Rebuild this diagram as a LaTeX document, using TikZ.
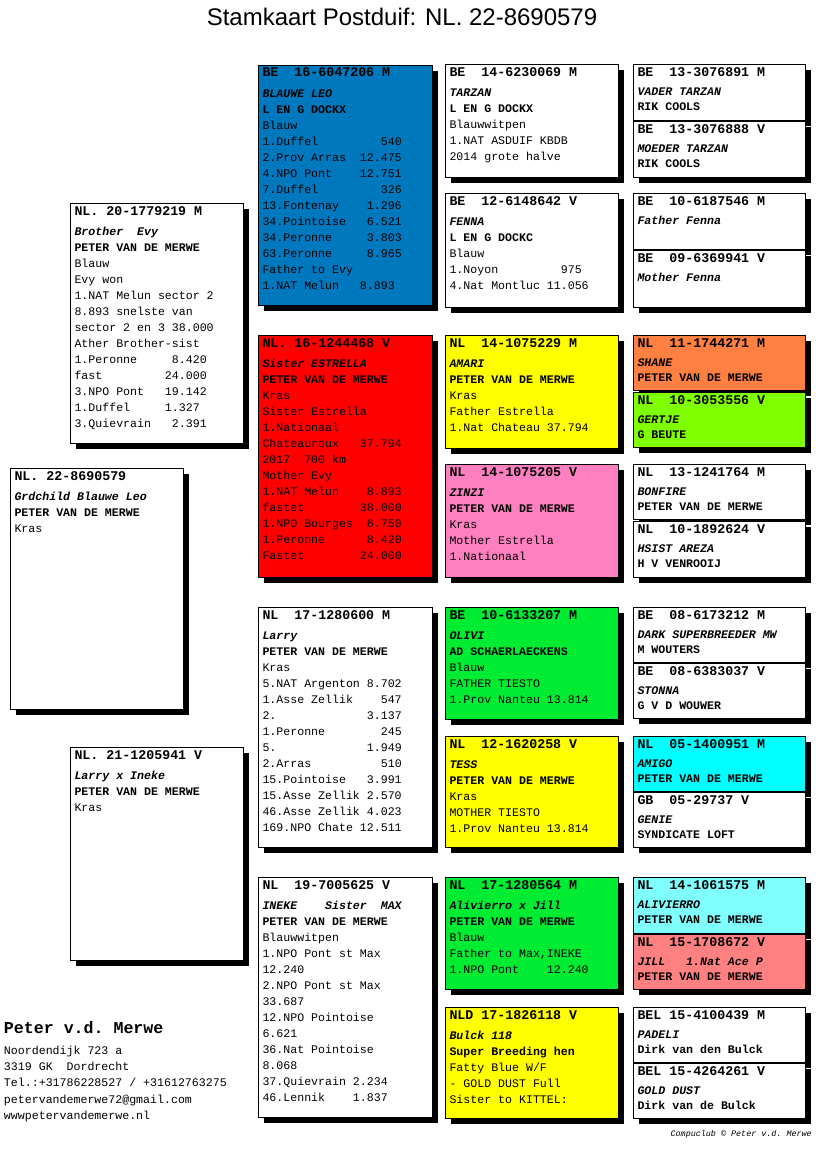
\documentclass[tikz,border=0pt]{standalone}
\usepackage{fontspec}
\setmainfont{Liberation Serif}
\setmonofont{Liberation Mono}
\newfontfamily\arialf{Liberation Sans}
\usetikzlibrary{calc}
\pgfdeclarelayer{bg}
\pgfsetlayers{bg,main}

\definecolor{cblue}{RGB}{0,120,190}
\definecolor{cred}{RGB}{255,0,0}
\definecolor{cyel}{RGB}{255,255,0}
\definecolor{cpink}{RGB}{255,128,192}
\definecolor{corange}{RGB}{255,128,64}
\definecolor{clime}{RGB}{128,255,0}
\definecolor{cgreen}{RGB}{0,236,50}
\definecolor{ccyan}{RGB}{0,255,255}
\definecolor{clcyan}{RGB}{128,255,255}
\definecolor{csalmon}{RGB}{255,128,128}

\newcommand\hfnt{\ttfamily\fontsize{13.3}{16}\selectfont\bfseries\frenchspacing}
\newcommand\nfnt{\ttfamily\fontsize{11.6}{16}\selectfont\bfseries\itshape\frenchspacing}
\newcommand\ofnt{\ttfamily\fontsize{11.6}{16}\selectfont\bfseries\frenchspacing}
\newcommand\tfnt{\ttfamily\fontsize{11.6}{16}\selectfont\frenchspacing}
\newcommand\HD[1]{\hbox{\hfnt #1}\vskip4.5pt}
\newcommand\NM[1]{\hbox{\nfnt #1}}
\newcommand\OW[1]{\hbox{\ofnt #1}}
\newcommand\TX[1]{\hbox{\tfnt #1}}

\tikzset{
  pb/.style={draw=black,line width=0.8pt,inner sep=0pt,outer sep=0pt,anchor=north west},
  pt/.style={inner sep=0pt,outer sep=0pt,anchor=base west},
  cn/.style={draw=black,line width=0.8pt},
}
% name, x, y, w, h, fill
\newcommand\pbx[6]{%
  \fill[black] ({#2+6},{#3+6}) rectangle ++(#4,#5);
  \node[pb,fill=#6,minimum width=#4pt,minimum height=#5pt] (#1) at (#2,#3) {};}
% name, baselineskip, content
\newcommand\ptx[3]{%
  \node[pt] (#1t) at ($(#1.north west)+(4.5,12)$) {\vtop{\baselineskip=#2pt\lineskiplimit=-20pt\lineskip=0pt #3}};}

\begin{document}
\begin{tikzpicture}[x=1pt,y=-1pt]
\fill[white] (0,0) rectangle (816,1172);
\useasboundingbox (0,0) rectangle (816,1172);

\node[anchor=base,inner sep=0pt] (title) at (402,25.5) {\arialf\fontsize{24}{28}\selectfont Stamkaart Postduif: NL. 22-8690579};

% generation 0
\pbx{g0}{10}{468}{173}{241}{white}
\ptx{g0}{16}{\HD{NL. 22-8690579}\NM{Grdchild Blauwe Leo}\OW{PETER VAN DE MERWE}\TX{Kras}}

% generation 1
\pbx{s1}{70}{203}{173}{240}{white}
\ptx{s1}{16}{\HD{NL. 20-1779219 M}\NM{Brother~~Evy}\OW{PETER VAN DE MERWE}\TX{Blauw}\TX{Evy won}\TX{1.NAT Melun sector 2}\TX{8.893 snelste van}\TX{sector 2 en 3 38.000}\TX{Ather Brother-sist}\TX{1.Peronne~~~~~8.420}\TX{fast~~~~~~~~~24.000}\TX{3.NPO Pont~~~19.142}\TX{1.Duffel~~~~~1.327}\TX{3.Quievrain~~~2.391}}
\pbx{d1}{70}{747}{173}{213}{white}
\ptx{d1}{16}{\HD{NL. 21-1205941 V}\NM{Larry x Ineke}\OW{PETER VAN DE MERWE}\TX{Kras}}

% generation 2
\pbx{b2}{258}{65}{174}{240}{cblue}
\ptx{b2}{16}{\HD{BE~~16-6047206 M}\NM{BLAUWE LEO}\OW{L EN G DOCKX}\TX{Blauw}\TX{1.Duffel~~~~~~~~~540}\TX{2.Prov Arras~~12.475}\TX{4.NPO Pont~~~~12.751}\TX{7.Duffel~~~~~~~~~326}\TX{13.Fontenay~~~~1.296}\TX{34.Pointoise~~~6.521}\TX{34.Peronne~~~~~3.803}\TX{63.Peronne~~~~~8.965}\TX{Father to Evy}\TX{1.NAT Melun~~~8.893}}
\pbx{r2}{258}{335}{174}{242}{cred}
\ptx{r2}{16}{\HD{NL. 16-1244468 V}\NM{Sister ESTRELLA}\OW{PETER VAN DE MERWE}\TX{Kras}\TX{Sister Estrella}\TX{1.Nationaal}\TX{Chateauroux~~~37.794}\TX{2017~~700 km}\TX{Mother Evy}\TX{1.NAT Melun~~~~8.893}\TX{fastet~~~~~~~~38.000}\TX{1.NPO Bourges~~6.750}\TX{1.Peronne~~~~~~8.420}\TX{Fastet~~~~~~~~24.000}}
\pbx{l2}{258}{607}{174}{240}{white}
\ptx{l2}{16}{\HD{NL~~17-1280600 M}\NM{Larry}\OW{PETER VAN DE MERWE}\TX{Kras}\TX{5.NAT Argenton 8.702}\TX{1.Asse Zellik~~~~547}\TX{2.~~~~~~~~~~~~~3.137}\TX{1.Peronne~~~~~~~~245}\TX{5.~~~~~~~~~~~~~1.949}\TX{2.Arras~~~~~~~~~~510}\TX{15.Pointoise~~~3.991}\TX{15.Asse Zellik 2.570}\TX{46.Asse Zellik 4.023}\TX{169.NPO Chate 12.511}}
\pbx{i2}{258}{877}{174}{240}{white}
\ptx{i2}{16}{\HD{NL~~19-7005625 V}\NM{INEKE~~~~Sister~~MAX}\OW{PETER VAN DE MERWE}\TX{Blauwwitpen}\TX{1.NPO Pont st Max}\TX{12.240}\TX{2.NPO Pont st Max}\TX{33.687}\TX{12.NPO Pointoise}\TX{6.621}\TX{36.Nat Pointoise}\TX{8.068}\TX{37.Quievrain 2.234}\TX{46.Lennik~~~~1.837}}

% generation 3
\pbx{t3}{445}{64}{173}{113}{white}
\ptx{t3}{16}{\HD{BE~~14-6230069 M}\NM{TARZAN}\OW{L EN G DOCKX}\TX{Blauwwitpen}\TX{1.NAT ASDUIF KBDB}\TX{2014 grote halve}}
\pbx{f3}{445}{193}{173}{114}{white}
\ptx{f3}{16}{\HD{BE~~12-6148642 V}\NM{FENNA}\OW{L EN G DOCKC}\TX{Blauw}\TX{1.Noyon~~~~~~~~~975}\TX{4.Nat Montluc 11.056}}
\pbx{a3}{445}{335}{173}{113}{cyel}
\ptx{a3}{16}{\HD{NL~~14-1075229 M}\NM{AMARI}\OW{PETER VAN DE MERWE}\TX{Kras}\TX{Father Estrella}\TX{1.Nat Chateau 37.794}}
\pbx{z3}{445}{464}{173}{113}{cpink}
\ptx{z3}{16}{\HD{NL~~14-1075205 V}\NM{ZINZI}\OW{PETER VAN DE MERWE}\TX{Kras}\TX{Mother Estrella}\TX{1.Nationaal}}
\pbx{o3}{445}{607}{173}{112}{cgreen}
\ptx{o3}{16}{\HD{BE~~10-6133207 M}\NM{OLIVI}\OW{AD SCHAERLAECKENS}\TX{Blauw}\TX{FATHER TIESTO}\TX{1.Prov Nanteu 13.814}}
\pbx{te3}{445}{736}{173}{111}{cyel}
\ptx{te3}{16}{\HD{NL~~12-1620258 V}\NM{TESS}\OW{PETER VAN DE MERWE}\TX{Kras}\TX{MOTHER TIESTO}\TX{1.Prov Nanteu 13.814}}
\pbx{al3}{445}{877}{173}{112}{cgreen}
\ptx{al3}{16}{\HD{NL~~17-1280564 M}\NM{Alivierro x Jill}\OW{PETER VAN DE MERWE}\TX{Blauw}\TX{Father to Max,INEKE}\TX{1.NPO Pont~~~~12.240}}
\pbx{n3}{445}{1007}{173}{111}{cyel}
\ptx{n3}{16}{\HD{NLD 17-1826118 V}\NM{Bulck 118}\OW{Super Breeding hen}\TX{Fatty Blue W/F}\TX{- GOLD DUST Full}\TX{Sister to KITTEL:}}

% generation 4
\pbx{p1}{633}{64}{172}{56}{white}
\ptx{p1}{15}{\HD{BE~~13-3076891 M}\NM{VADER TARZAN}\OW{RIK COOLS}}
\pbx{p2}{633}{121}{172}{56}{white}
\ptx{p2}{15}{\HD{BE~~13-3076888 V}\NM{MOEDER TARZAN}\OW{RIK COOLS}}
\pbx{p3}{633}{193}{172}{56}{white}
\ptx{p3}{15}{\HD{BE~~10-6187546 M}\NM{Father Fenna}}
\pbx{p4}{633}{250}{172}{57}{white}
\ptx{p4}{15}{\HD{BE~~09-6369941 V}\NM{Mother Fenna}}
\pbx{p5}{633}{335}{172}{55}{corange}
\ptx{p5}{15}{\HD{NL~~11-1744271 M}\NM{SHANE}\OW{PETER VAN DE MERWE}}
\pbx{p6}{633}{392}{172}{55}{clime}
\ptx{p6}{15}{\HD{NL~~10-3053556 V}\NM{GERTJE}\OW{G BEUTE}}
\pbx{p7}{633}{464}{172}{55}{white}
\ptx{p7}{15}{\HD{NL~~13-1241764 M}\NM{BONFIRE}\OW{PETER VAN DE MERWE}}
\pbx{p8}{633}{521}{172}{56}{white}
\ptx{p8}{15}{\HD{NL~~10-1892624 V}\NM{HSIST AREZA}\OW{H V VENROOIJ}}
\pbx{p9}{633}{607}{172}{55}{white}
\ptx{p9}{15}{\HD{BE~~08-6173212 M}\NM{DARK SUPERBREEDER MW}\OW{M WOUTERS}}
\pbx{p10}{633}{663}{172}{55}{white}
\ptx{p10}{15}{\HD{BE~~08-6383037 V}\NM{STONNA}\OW{G V D WOUWER}}
\pbx{p11}{633}{736}{172}{55}{ccyan}
\ptx{p11}{15}{\HD{NL~~05-1400951 M}\NM{AMIGO}\OW{PETER VAN DE MERWE}}
\pbx{p12}{633}{792}{172}{55}{white}
\ptx{p12}{15}{\HD{GB~~05-29737 V}\NM{GENIE}\OW{SYNDICATE LOFT}}
\pbx{p13}{633}{877}{172}{56}{clcyan}
\ptx{p13}{15}{\HD{NL~~14-1061575 M}\NM{ALIVIERRO}\OW{PETER VAN DE MERWE}}
\pbx{p14}{633}{934}{172}{55}{csalmon}
\ptx{p14}{15}{\HD{NL~~15-1708672 V}\NM{JILL~~~1.Nat Ace P}\OW{PETER VAN DE MERWE}}
\pbx{p15}{633}{1007}{172}{55}{white}
\ptx{p15}{15}{\HD{BEL 15-4100439 M}\NM{PADELI}\OW{Dirk van den Bulck}}
\pbx{p16}{633}{1063}{172}{55}{white}
\ptx{p16}{15}{\HD{BEL 15-4264261 V}\NM{GOLD DUST}\OW{Dirk van de Bulck}}

% footer
\node[pt] (addr) at (4,1033) {\vtop{\baselineskip=16.2pt\lineskiplimit=-20pt\lineskip=0pt
  \hbox{\ttfamily\fontsize{16.6}{18}\selectfont\bfseries\frenchspacing Peter v.d. Merwe}\vskip5.3pt
  \TX{Noordendijk 723 a}\TX{3319 GK~~Dordrecht}\TX{Tel.:+31786228527 / +31612763275}\TX{petervandemerwe72@gmail.com}\TX{wwwpetervandemerwe.nl}}};
\node[inner sep=0pt,anchor=base east] (copy) at (812,1136.5) {\ttfamily\itshape\fontsize{8.4}{10}\selectfont\frenchspacing Compuclub \textcopyright{} Peter v.d. Merwe};

% connectors
\begin{pgfonlayer}{bg}
\draw[cn] ($(s1.north west)+(0,122)$) -- ++(-27,0) |- ($(d1.north west)+(0,85)$);
\draw[cn] (s1.east) -- ++(11,0);
\draw[cn] ($(b2.north west)+(0,117)$) -- ++(-4,0) |- ($(r2.north west)+(0,128)$);
\draw[cn] (d1.east) -- ++(11,0);
\draw[cn] ($(l2.north west)+(0,119)$) -- ++(-4,0) |- ($(i2.north west)+(0,128)$);
\foreach \p/\u/\l in {b2/t3/f3, r2/a3/z3, l2/o3/te3, i2/al3/n3}{
  \draw[cn] (\p.east) -- ++(9,0);
  \draw[cn] ($(\u.north west)+(0,52)$) -- ++(-4,0) |- ($(\l.north west)+(0,59)$);
}
\foreach \p/\u/\l in {t3/p1/p2, f3/p3/p4, a3/p5/p6, z3/p7/p8, o3/p9/p10, te3/p11/p12, al3/p13/p14, n3/p15/p16}{
  \draw[cn] (\p.east) -- ++(11,0);
  \draw[cn] ($(\u.north west)+(0,32)$) -- ++(-4,0) |- ($(\l.north west)+(0,22)$);
}
\end{pgfonlayer}
\end{tikzpicture}
\end{document}
